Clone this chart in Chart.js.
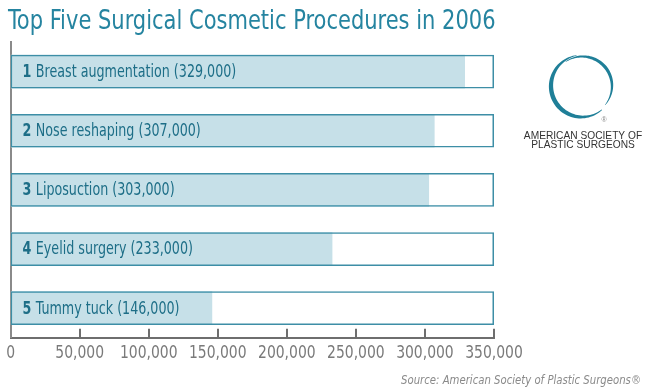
<!DOCTYPE html>
<html>
<head>
<meta charset="utf-8">
<script src="https://cdn.jsdelivr.net/npm/chart.js@4.4.1/dist/chart.umd.min.js"></script>
<style>
  html, body { margin: 0; padding: 0; background: #fff; }
  #wrap { width: 650px; height: 390px; position: relative; }
</style>
</head>
<body>
<div id="wrap"><canvas id="chart" width="650" height="390"></canvas></div>
<script>
// ===================== DATA =====================
const procedures = ['Breast augmentation', 'Nose reshaping', 'Liposuction', 'Eyelid surgery', 'Tummy tuck'];
const counts = [329000, 307000, 303000, 233000, 146000];
const axisMax = 350000;
const axisStep = 50000;

const FONT = "'Liberation Sans Narrow', 'DejaVu Sans Condensed', 'Liberation Sans', sans-serif";
const TEAL = '#3d8ea6';
const FILL = '#c6e0e8';
const TEXT_DARK = '#1d6e87';

const fmt = v => v.toLocaleString('en-US');

// text squeezed horizontally (the original uses a condensed face)
function squeezed(ctx, text, x, y, sx, align) {
  ctx.save();
  const w = ctx.measureText(text).width * sx;
  let left = x;
  if (align === 'right') left = x - w;
  else if (align === 'center') left = x - w / 2;
  ctx.translate(left, y);
  ctx.scale(sx, 1);
  ctx.textAlign = 'left';
  ctx.fillText(text, 0, 0);
  ctx.restore();
  return w;
}

// tapered arc stroke for the logo ring
function taperArc(ctx, cx, cy, r, a0, a1, wMax, wEnd) {
  const n = 60;
  const outer = [], inner = [];
  for (let i = 0; i <= n; i++) {
    const t = i / n;
    const a = a0 + (a1 - a0) * t;
    const w = wEnd + (wMax - wEnd) * Math.sin(Math.PI * t);
    outer.push([cx + Math.cos(a) * (r + w / 2), cy + Math.sin(a) * (r + w / 2)]);
    inner.push([cx + Math.cos(a) * (r - w / 2), cy + Math.sin(a) * (r - w / 2)]);
  }
  ctx.beginPath();
  outer.forEach((p, i) => i ? ctx.lineTo(p[0], p[1]) : ctx.moveTo(p[0], p[1]));
  inner.reverse().forEach(p => ctx.lineTo(p[0], p[1]));
  ctx.closePath();
  ctx.fill();
}

const deg = d => d * Math.PI / 180;

const decorPlugin = {
  id: 'decor',
  afterDatasetsDraw(chart) {
    const ctx = chart.ctx;
    const xs = chart.scales.x;
    const meta = chart.getDatasetMeta(0);
    ctx.save();
    ctx.textBaseline = 'middle';
    meta.data.forEach((bar, i) => {
      const x = xs.getPixelForValue(0) + 12;
      const y = bar.y + 1;
      ctx.fillStyle = TEXT_DARK;
      ctx.font = `bold 17px ${FONT}`;
      const w = squeezed(ctx, String(i + 1) + ' ', x, y, 0.83);
      ctx.font = `17px ${FONT}`;
      squeezed(ctx, `${procedures[i]} (${fmt(counts[i])})`, x + w, y, 0.83);
    });

    // tick marks pointing up from the axis, and tick labels
    const base = chart.chartArea.bottom;
    ctx.strokeStyle = '#6e6e6e';
    ctx.lineWidth = 2;
    xs.ticks.forEach(t => {
      const px = xs.getPixelForValue(t.value);
      if (t.value !== 0) {
        ctx.beginPath();
        ctx.moveTo(Math.round(px), base);
        ctx.lineTo(Math.round(px), base - 9);
        ctx.stroke();
      }
      ctx.fillStyle = '#7a7a7a';
      ctx.font = `18px ${FONT}`;
      squeezed(ctx, fmt(t.value), px, base + 16, 0.86, 'center');
    });
    ctx.restore();
  },
  afterDraw(chart) {
    const ctx = chart.ctx;
    ctx.save();
    ctx.textBaseline = 'alphabetic';
    // title
    ctx.fillStyle = '#2584a0';
    ctx.font = `27px ${FONT}`;
    squeezed(ctx, 'Top Five Surgical Cosmetic Procedures in 2006', 8, 29, 0.865);

    // source
    ctx.fillStyle = '#8a8a8a';
    ctx.font = `italic 12.5px ${FONT}`;
    squeezed(ctx, 'Source: American Society of Plastic Surgeons\u00AE', 641, 384, 0.9, 'right');

    // logo ring
    ctx.fillStyle = '#1f7f98';
    taperArc(ctx, 582, 86, 31, deg(-100), deg(-310), 4.5, 0.6);
    taperArc(ctx, 582.5, 86, 29.5, deg(40), deg(-125), 3.2, 0.5);
    ctx.fillStyle = '#888';
    ctx.font = `7px 'Liberation Sans', sans-serif`;
    ctx.textAlign = 'center';
    ctx.fillText('\u00AE', 604, 122);

    ctx.fillStyle = '#333';
    ctx.font = `10.5px 'Liberation Sans', sans-serif`;
    squeezed(ctx, 'AMERICAN SOCIETY OF', 583, 139, 0.97, 'center');
    squeezed(ctx, 'PLASTIC SURGEONS', 583, 148, 0.97, 'center');
    ctx.restore();
  }
};

new Chart(document.getElementById('chart'), {
  type: 'bar',
  data: {
    labels: procedures,
    datasets: [
      {
        label: 'Procedures',
        data: counts,
        backgroundColor: FILL,
        borderWidth: 0,
        order: 2,
        grouped: false,
        barPercentage: 0.57,
        categoryPercentage: 1,
      },
      {
        label: 'Frame',
        data: procedures.map(() => axisMax),
        backgroundColor: 'rgba(0,0,0,0)',
        borderColor: TEAL,
        borderWidth: 1.5,
        borderSkipped: false,
        order: 1,
        grouped: false,
        barPercentage: 0.57,
        categoryPercentage: 1,
      },
    ],
  },
  options: {
    indexAxis: 'y',
    responsive: false,
    animation: false,
    events: [],
    layout: { padding: { left: 10, right: 156, top: 42, bottom: 21 } },
    plugins: {
      legend: { display: false },
      tooltip: { enabled: false },
    },
    scales: {
      x: {
        min: 0,
        max: axisMax,
        ticks: {
          stepSize: axisStep,
          color: 'rgba(0,0,0,0)',
          font: { family: FONT, size: 16 },
          padding: 6,
          callback: v => fmt(v),
        },
        grid: { display: false, drawTicks: false },
        border: { display: true, color: '#6e6e6e', width: 2 },
      },
      y: {
        ticks: { display: false },
        grid: { display: false, drawTicks: false },
        border: { display: true, color: '#8a8a8a', width: 2 },
      },
    },
  },
  plugins: [decorPlugin],
});
</script>
</body>
</html>
